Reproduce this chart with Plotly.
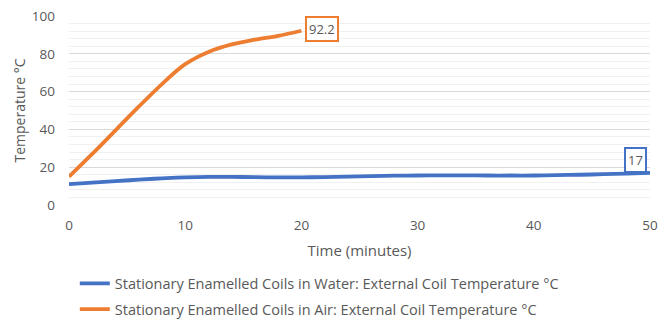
import plotly.graph_objects as go

# Time axis samples (minutes)
water_time = [0, 2, 4, 6, 8, 10, 12, 14, 16, 18, 20, 22, 24, 26, 28, 30,
              32, 34, 36, 38, 40, 42, 44, 46, 48, 50]
water_temp = [11.0, 11.8, 12.6, 13.4, 14.1, 14.6, 14.9, 14.9, 14.7, 14.6, 14.6,
              14.8, 15.0, 15.3, 15.5, 15.6, 15.7, 15.7, 15.6, 15.6, 15.6,
              15.8, 16.0, 16.3, 16.6, 17.0]

air_time = [0, 2, 4, 6, 8, 10, 12, 14, 16, 18, 20]
air_temp = [15.0, 27.0, 39.5, 52.0, 64.0, 74.5, 81.0, 85.0, 87.5, 89.5, 92.2]

water_name = "Stationary Enamelled Coils in Water: External Coil Temperature °C"
air_name = "Stationary Enamelled Coils in Air: External Coil Temperature °C"

BLUE = "#4472C4"
ORANGE = "#ED7D31"
TEXT = "#595959"
FONT = "Open Sans, Liberation Sans, sans-serif"

fig = go.Figure()
fig.add_trace(go.Scatter(x=water_time, y=water_temp, mode="lines", name=water_name,
                         line=dict(color=BLUE, width=3.8, shape="spline"),
                         legendgroup="w"))
fig.add_trace(go.Scatter(x=air_time, y=air_temp, mode="lines", name=air_name,
                         line=dict(color=ORANGE, width=3.8, shape="spline"),
                         legendgroup="a"))

# Boxed end-point value labels
fig.add_annotation(x=air_time[-1], y=air_temp[-1], text=f"{air_temp[-1]}",
                   showarrow=False, xanchor="left", yanchor="middle", xshift=4,
                   yshift=2,
                   bordercolor=ORANGE, borderwidth=2, borderpad=2,
                   font=dict(family=FONT, size=13, color=TEXT), bgcolor="white")
fig.add_annotation(x=water_time[-1], y=water_temp[-1], text=f"{water_temp[-1]:g}",
                   showarrow=False, xanchor="right", yanchor="bottom",
                   xshift=-3, yshift=0,
                   bordercolor=BLUE, borderwidth=2, borderpad=2,
                   font=dict(family=FONT, size=13, color=TEXT), bgcolor="white")

fig.update_layout(
    width=671, height=320,
    margin=dict(l=69, r=21, t=16, b=115, autoexpand=False),
    plot_bgcolor="white", paper_bgcolor="white",
    font=dict(family=FONT, size=13, color=TEXT),
    legend=dict(x=0.01, y=-0.33, xanchor="left", yanchor="top",
                orientation="v", tracegroupgap=4,
                font=dict(family=FONT, size=14.5, color=TEXT)),
    xaxis=dict(range=[0, 50], dtick=10, showgrid=False, zeroline=False,
               showline=False, ticks="", ticklabelstandoff=10, automargin=False,
               tickfont=dict(size=13.5, color=TEXT),
               title=dict(text="Time (minutes)", font=dict(size=15, color=TEXT),
                          standoff=12)),
    yaxis=dict(range=[0, 100], dtick=20, showgrid=True, gridcolor="#d9d9d9",
               gridwidth=1, zeroline=False, showline=False, ticks="",
               ticklabelstandoff=13, automargin=False,
               tickfont=dict(size=13.5, color=TEXT),
               minor=dict(dtick=4, showgrid=True, gridcolor="#f0f0f0", gridwidth=1),
               title=dict(text="Temperature °C", font=dict(size=14, color=TEXT),
                          standoff=2)),
)

fig.write_html("out.html")
